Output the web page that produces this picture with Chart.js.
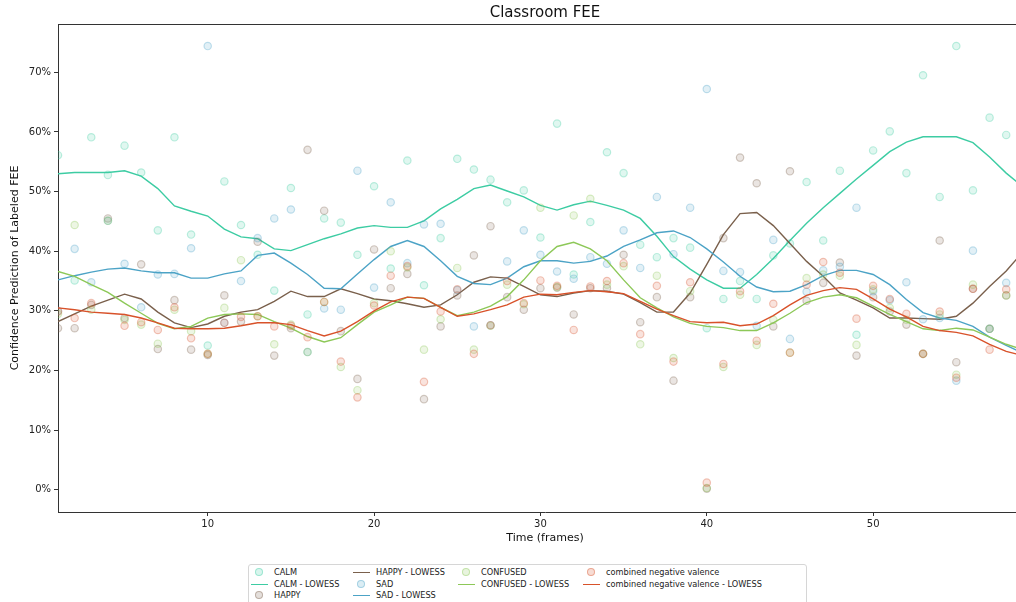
<!DOCTYPE html>
<html>
<head>
<meta charset="utf-8">
<script src="https://cdn.jsdelivr.net/npm/chart.js@4.4.1/dist/chart.umd.min.js"></script>
<style>
  html, body { margin: 0; padding: 0; background: #fff; }
  body { width: 1016px; height: 602px; overflow: hidden; position: relative; font-family: 'DejaVu Sans', sans-serif; }
  #wrap { position: absolute; left: 0; top: 0; width: 1016px; height: 602px; overflow: hidden; }
  #legend { position: absolute; left: 248px; top: 564px; width: 557px; height: 50px; border: 1px solid #d6d6d6; border-radius: 3px; background: #fff; }
  .item { position: absolute; font-size: 8.2px; color: #222; white-space: nowrap; line-height: 10px; }
  .dot { position: absolute; width: 6px; height: 6px; border-radius: 50%; border: 1px solid; top: 1px; }
  .ln { position: absolute; width: 17px; height: 0; border-top: 1.6px solid; top: 5px; }
</style>
</head>
<body>
<div id="wrap"><canvas id="myChart" width="1032" height="602"></canvas></div>
<div id="legend"></div>
<script>
// frames on the x axis (frame 59 lies just past the visible edge)
const frames = [1,2,3,4,5,6,7,8,9,10,11,12,13,14,15,16,17,18,19,20,21,22,23,24,25,26,27,28,29,30,
  31,32,33,34,35,36,37,38,39,40,41,42,43,44,45,46,47,48,49,50,51,52,53,54,55,56,57,58,59];

const xTicks = [10, 20, 30, 40, 50];
const yTicks = [0, 10, 20, 30, 40, 50, 60, 70];

// confidence values (%) per frame
const calm = [56.1,35.1,59.1,52.8,57.7,53.2,43.5,59.1,42.8,24.2,51.7,44.4,39.4,33.4,50.6,29.4,45.5,44.8,39.4,50.9,
  37.1,55.2,34.3,42.2,55.5,53.7,52.0,48.2,50.2,42.3,61.4,36.1,44.9,56.6,53.1,41.1,39.0,42.2,40.6,27.1,
  32.0,35.0,32.0,39.3,41.3,51.6,41.8,53.5,26.0,56.9,60.1,53.1,69.5,49.1,74.4,50.2,62.4,59.5,null];
const happy = [27.1,27.1,31.0,45.5,28.8,37.8,23.6,31.8,23.5,22.6,32.6,28.2,41.6,22.5,27.1,57.0,46.8,26.6,18.6,40.3,
  33.8,36.2,15.2,27.4,32.6,39.3,44.2,32.3,30.2,33.8,33.9,29.4,33.8,33.8,39.4,28.1,32.3,18.3,32.3,0.2,
  42.2,55.7,51.4,27.4,53.4,31.7,34.7,38.1,22.5,32.3,29.9,27.7,22.8,41.8,21.4,33.7,27.0,32.6,null];
const sad = [30.0,40.4,34.8,45.1,37.9,30.6,36.1,36.2,40.5,74.4,28.0,35.0,42.2,45.5,47.0,23.1,30.4,30.2,53.5,33.9,
  48.2,38.0,44.5,44.6,33.5,27.4,27.6,38.3,43.5,39.4,36.6,35.4,39.0,37.9,43.5,37.2,49.1,39.5,47.3,67.2,
  36.7,36.5,27.5,41.9,25.3,33.2,36.8,37.4,47.3,33.3,31.8,34.8,28.6,28.8,18.3,40.1,27.0,34.7,null];
const confused = [29.5,44.4,30.2,45.1,28.5,27.7,24.5,30.2,26.6,22.8,30.5,38.5,29.1,24.4,27.7,23.1,31.5,20.6,16.7,31.3,
  40.0,37.3,23.5,28.6,37.2,23.5,27.5,34.4,31.1,47.3,34.0,46.0,48.8,34.4,37.5,24.4,35.9,22.1,33.3,0.3,
  20.6,32.7,24.3,28.5,23.0,35.5,36.1,35.9,24.3,33.6,30.5,28.5,22.8,29.4,19.3,34.4,27.0,32.6,null];
const combined = [29.9,28.8,31.3,null,27.5,28.1,26.8,30.6,25.4,22.8,28.0,29.0,29.1,27.4,27.5,25.6,31.5,21.5,15.5,30.9,
  35.9,37.5,18.1,29.9,33.6,22.8,27.6,35.0,31.3,35.1,34.2,26.8,34.1,35.0,38.0,26.1,34.2,21.5,34.8,1.2,
  21.1,33.3,25.0,31.2,23.0,34.4,38.2,36.4,28.7,34.2,32.0,29.5,22.8,29.9,18.8,33.7,23.5,33.6,null];

// LOWESS fits
const calmLowess = [53.0,53.2,53.2,53.2,53.5,52.6,50.5,47.6,46.7,45.9,43.7,42.4,42.1,40.4,40.1,41.1,42.1,42.9,43.9,44.3,
  44.0,44.0,45.1,47.1,48.7,50.5,51.1,50.1,49.1,47.7,46.9,47.8,48.4,47.7,46.9,45.5,42.5,39.1,37.0,35.2,
  33.8,33.8,36.1,38.8,41.8,44.7,47.3,49.7,52.1,54.4,56.7,58.3,59.2,59.2,59.2,58.2,55.8,53.1,50.8];
const happyLowess = [28.2,29.5,30.8,31.8,32.8,32.0,29.8,28.0,27.2,27.8,29.1,29.8,30.2,31.6,33.3,32.4,32.4,33.7,32.9,32.0,
  31.7,31.2,30.6,31.0,32.7,34.8,35.7,35.5,34.1,32.7,32.4,33.0,33.4,33.3,32.8,31.4,29.8,29.8,33.0,37.8,
  42.8,46.3,46.5,44.3,41.3,38.3,35.8,33.0,31.8,30.5,28.8,28.8,28.7,28.6,29.1,31.3,34.1,36.7,39.9];
const sadLowess = [35.2,35.9,36.5,37.0,37.2,36.7,36.4,36.4,35.5,35.5,36.2,36.7,39.3,39.7,38.0,36.1,33.8,33.7,36.2,38.6,
  40.8,41.8,40.8,38.4,35.8,34.6,34.4,35.5,37.4,38.4,38.4,38.0,38.3,39.2,40.8,41.9,43.1,43.4,42.3,40.4,
  38.2,35.8,34.0,33.2,33.3,34.4,35.9,36.8,36.8,36.1,34.4,31.9,29.7,28.8,28.4,27.4,25.6,24.2,22.9];
const confusedLowess = [36.6,35.8,34.4,33.1,31.3,29.6,27.9,27.0,27.4,28.8,29.4,29.5,29.4,28.2,27.1,25.7,24.8,25.5,27.7,29.8,
  31.0,32.3,32.1,30.6,29.2,29.8,30.8,32.4,35.2,38.4,40.8,41.5,40.4,38.4,35.2,32.2,30.5,29.0,27.9,27.4,
  27.2,26.7,26.7,28.0,29.6,31.4,32.3,32.7,32.2,30.8,29.4,28.2,27.0,26.7,27.1,26.8,25.6,24.4,23.5];
const combinedLowess = [30.5,30.2,29.8,29.6,29.4,28.8,28.0,27.1,27.0,27.0,27.1,27.5,28.0,28.0,27.7,26.7,25.8,26.6,28.2,30.0,
  31.5,32.3,32.1,30.6,29.1,29.5,30.2,31.0,32.3,32.8,32.7,33.1,33.4,33.2,32.9,31.6,30.3,29.2,28.2,28.0,
  28.1,27.5,27.8,29.2,31.0,32.6,33.4,33.9,33.6,32.0,30.3,29.0,27.4,26.7,26.4,25.8,24.4,23.2,22.5];

const FONT = 'DejaVu Sans';
const colors = {
    calm: [61, 204, 163],
    happy: [122, 96, 76],
    sad: [76, 163, 198],
    confused: [141, 200, 88],
    combined: [216, 82, 42]
};
const rgba = (c, a) => `rgba(${c[0]}, ${c[1]}, ${c[2]}, ${a})`;
const pts = vals => frames.map((f, i) => ({ x: f, y: vals[i] }));

function scatterSet(label, vals, c) {
    return {
        label: label,
        data: pts(vals),
        showLine: false,
        pointRadius: 3.7,
        pointBorderWidth: 1.2,
        backgroundColor: rgba(c, 0.16),
        borderColor: rgba(c, 0.32)
    };
}
function lineSet(label, vals, c) {
    return {
        label: label,
        data: pts(vals),
        showLine: true,
        pointRadius: 0,
        borderWidth: 1.4,
        borderColor: rgba(c, 1),
        backgroundColor: rgba(c, 1),
        tension: 0
    };
}

const series = [
    scatterSet('CALM', calm, colors.calm),
    lineSet('CALM - LOWESS', calmLowess, colors.calm),
    scatterSet('HAPPY', happy, colors.happy),
    lineSet('HAPPY - LOWESS', happyLowess, colors.happy),
    scatterSet('SAD', sad, colors.sad),
    lineSet('SAD - LOWESS', sadLowess, colors.sad),
    scatterSet('CONFUSED', confused, colors.confused),
    lineSet('CONFUSED - LOWESS', confusedLowess, colors.confused),
    scatterSet('combined negative valence', combined, colors.combined),
    lineSet('combined negative valence - LOWESS', combinedLowess, colors.combined)
];
// later series drawn on top, like matplotlib
series.forEach((s, i) => { s.order = 20 - i; });

// top spine and the title centred over the axes
const frame = {
    id: 'frame',
    afterDraw(chart) {
        const a = chart.chartArea, c = chart.ctx;
        c.save();
        c.strokeStyle = '#333';
        c.lineWidth = 1;
        c.beginPath();
        c.moveTo(a.left, a.top + 0.5);
        c.lineTo(a.right, a.top + 0.5);
        c.stroke();
        c.fillStyle = '#111';
        c.font = '15px "DejaVu Sans"';
        c.textAlign = 'center';
        c.textBaseline = 'middle';
        c.fillText('Classroom FEE', (a.left + a.right) / 2, 13);
        c.restore();
    }
};

const ctx = document.getElementById('myChart').getContext('2d');
new Chart(ctx, {
    type: 'scatter',
    data: { datasets: series },
    plugins: [frame],
    options: {
        responsive: false,
        animation: false,
        layout: { autoPadding: false, padding: { top: 24, right: 0, bottom: 57, left: 0 } },
        plugins: {
            legend: { display: false },
            tooltip: { enabled: false },
            title: { display: false }
        },
        scales: {
            x: {
                type: 'linear',
                min: 1,
                max: 59.55,
                afterBuildTicks: s => { s.ticks = xTicks.map(v => ({ value: v })); },
                afterFit: s => { s.height = 33; },
                ticks: { color: '#222', font: { family: FONT, size: 10 }, padding: 2, maxRotation: 0 },
                grid: { drawOnChartArea: false, drawTicks: true, tickLength: 4, color: '#333' },
                border: { display: true, color: '#333', width: 1 },
                title: {
                    display: true,
                    text: 'Time (frames)',
                    color: '#111',
                    font: { family: FONT, size: 11 },
                    padding: { top: 0, bottom: 0 }
                }
            },
            y: {
                min: -3.72,
                max: 78.1,
                afterBuildTicks: s => { s.ticks = yTicks.map(v => ({ value: v })); },
                afterFit: s => { s.width = 58; },
                ticks: {
                    color: '#222',
                    font: { family: FONT, size: 10 },
                    padding: 3,
                    callback: v => v + '%'
                },
                grid: { drawOnChartArea: false, drawTicks: true, tickLength: 4, color: '#333' },
                border: { display: true, color: '#333', width: 1 },
                title: {
                    display: true,
                    text: 'Confidence Prediction of Labeled FEE',
                    color: '#111',
                    font: { family: FONT, size: 11 },
                    padding: { top: 9, bottom: 0 }
                }
            }
        }
    }
});

// legend in matplotlib column order
const legendItems = [
    { label: 'CALM', c: colors.calm, kind: 'dot', x: 6, row: 0 },
    { label: 'CALM - LOWESS', c: colors.calm, kind: 'ln', x: 2, row: 1 },
    { label: 'HAPPY', c: colors.happy, kind: 'dot', x: 6, row: 2 },
    { label: 'HAPPY - LOWESS', c: colors.happy, kind: 'ln', x: 104, row: 0 },
    { label: 'SAD', c: colors.sad, kind: 'dot', x: 108, row: 1 },
    { label: 'SAD - LOWESS', c: colors.sad, kind: 'ln', x: 104, row: 2 },
    { label: 'CONFUSED', c: colors.confused, kind: 'dot', x: 213, row: 0 },
    { label: 'CONFUSED - LOWESS', c: colors.confused, kind: 'ln', x: 209, row: 1 },
    { label: 'combined negative valence', c: colors.combined, kind: 'dot', x: 338, row: 0 },
    { label: 'combined negative valence - LOWESS', c: colors.combined, kind: 'ln', x: 334, row: 1 }
];
const legend = document.getElementById('legend');
legendItems.forEach(it => {
    const el = document.createElement('div');
    el.className = 'item';
    const left = it.kind === 'dot' ? it.x - 4 : it.x;
    el.style.left = left + 'px';
    el.style.top = (2 + it.row * 11.7) + 'px';
    const h = document.createElement('div');
    h.className = it.kind;
    if (it.kind === 'dot') {
        h.style.left = '4px';
        h.style.background = rgba(it.c, 0.2);
        h.style.borderColor = rgba(it.c, 0.4);
    } else {
        h.style.left = '0px';
        h.style.borderTopColor = rgba(it.c, 1);
    }
    el.appendChild(h);
    const t = document.createElement('span');
    t.textContent = it.label;
    t.style.marginLeft = '23px';
    el.appendChild(t);
    legend.appendChild(el);
});
</script>
</body>
</html>
